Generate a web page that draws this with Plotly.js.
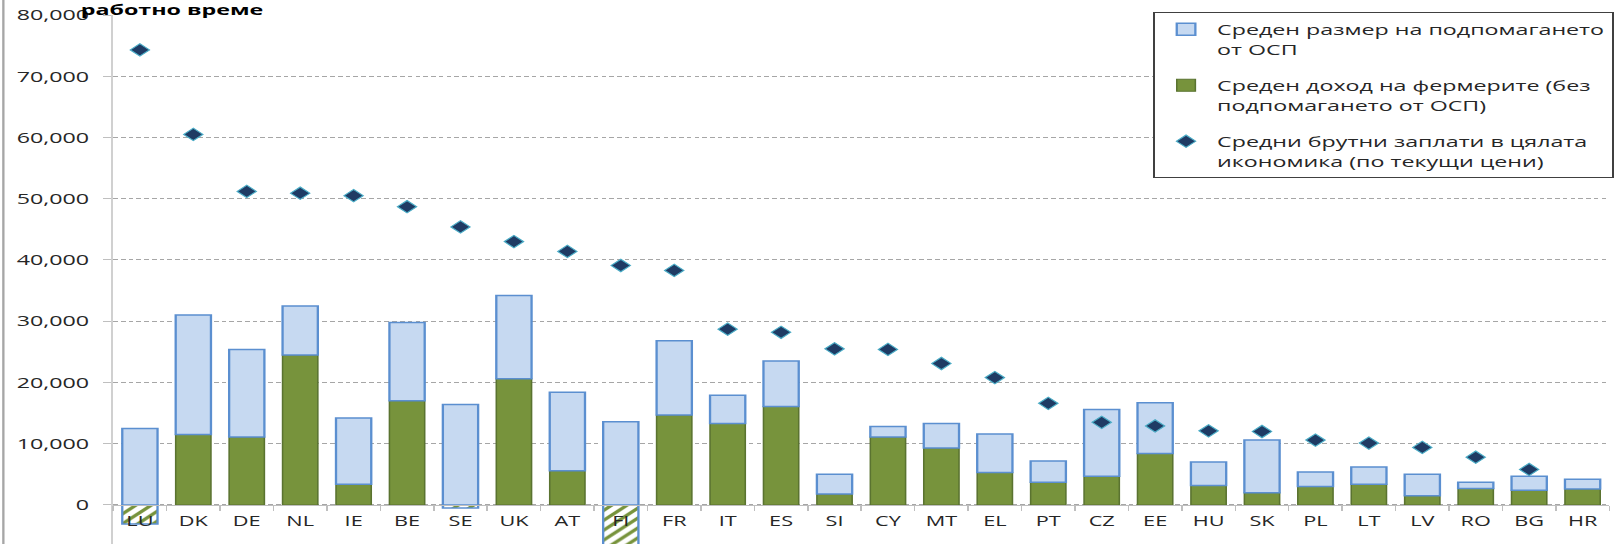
<!DOCTYPE html>
<html>
<head>
<meta charset="utf-8">
<script src="https://cdn.plot.ly/plotly-3.0.1.min.js"></script>
<style>
  html, body { margin: 0; padding: 0; background: #ffffff; overflow: hidden; }
  #wrap { width: 1614px; height: 544px; overflow: hidden; position: relative; }
  #chart { width: 1041px; height: 544px; transform: scaleX(1.5504); transform-origin: 0 0; }
</style>
</head>
<body>
<div id="wrap"><div id="chart"></div></div>
<script>
// Member states (category axis)
const countries = ["LU","DK","DE","NL","IE","BE","SE","UK","AT","FI","FR","IT","ES","SI","CY","MT","EL","PT","CZ","EE","HU","SK","PL","LT","LV","RO","BG","HR"];

// Average farmers' income without CAP support (EUR per annual work unit)
const farmIncome = [-3100, 11500, 11100, 24500, 3400, 17000, -500, 20600, 5600, -8500, 14700, 13300, 16100, 1800, 11100, 9300, 5300, 3700, 4700, 8400, 3200, 2000, 3000, 3400, 1500, 2700, 2400, 2600];

// Average CAP support
const capSupport = [12500, 19500, 14300, 8000, 10800, 12800, 16400, 13600, 12800, 13600, 12100, 4600, 7400, 3200, 1700, 4000, 6300, 3500, 10900, 8300, 3800, 8600, 2400, 2800, 3500, 1000, 2300, 1600];

// Average gross wages in the whole economy (current prices)
const grossWages = [74300, 60500, 51200, 50900, 50500, 48700, 45400, 43000, 41400, 39100, 38300, 28700, 28200, 25500, 25400, 23100, 20800, 16600, 13500, 12900, 12100, 12000, 10600, 10100, 9400, 7800, 5800, null];

const yTicks = [0, 10000, 20000, 30000, 40000, 50000, 60000, 70000, 80000];

const names = {
  cap: "Среден размер на подпомагането<br>от ОСП",
  income: "Среден доход на фермерите (без<br>подпомагането от ОСП)",
  wages: "Средни брутни заплати в цялата<br>икономика (по текущи цени)"
};

const incomePos = farmIncome.map(v => v >= 0 ? v : null);
const incomeNeg = farmIncome.map(v => v < 0 ? v : null);

const font = "Open Sans, Noto Sans, DejaVu Sans, sans-serif";

const traces = [
  {
    type: "bar", x: countries, y: incomePos, name: names.income,
    legendrank: 2, legendgroup: "b",
    marker: { color: "#77933c", line: { color: "#5a7330", width: 1 } },
    hoverinfo: "skip"
  },
  {
    type: "bar", x: countries, y: incomeNeg, name: names.income,
    showlegend: false, legendgroup: "b",
    marker: {
      color: "#ffffff",
      line: { color: "#5b8fd0", width: 1.5 },
      pattern: { shape: "/", fgcolor: "#77933c", bgcolor: "#ffffff", size: 7, solidity: 0.4, fillmode: "replace" }
    },
    hoverinfo: "skip"
  },
  {
    type: "bar", x: countries, y: capSupport, name: names.cap,
    legendrank: 1, legendgroup: "a",
    marker: { color: "#c6d9f1", line: { color: "#5b8fd0", width: 1.5 } },
    hoverinfo: "skip"
  },
  {
    type: "scatter", mode: "markers", x: countries, y: grossWages, name: names.wages,
    legendrank: 3, legendgroup: "c",
    marker: { symbol: "diamond", size: 9.5, color: "#1f3b64", line: { color: "#4bacc6", width: 1 } },
    hoverinfo: "skip"
  }
];

const yMin = -6370, yMax = 80000;
const zeroPos = (0 - yMin) / (yMax - yMin);

const layout = {
  width: 1041, height: 544,
  margin: { l: 73, r: 0, t: 15, b: 0, pad: 0 },
  paper_bgcolor: "#ffffff", plot_bgcolor: "#ffffff",
  font: { family: font, size: 15, color: "#262626" },
  barmode: "relative",
  bargap: 0.34,
  showlegend: true,
  legend: {
    x: 0.6955, y: 1.0057, xanchor: "left", yanchor: "top",
    bgcolor: "#ffffff", bordercolor: "#404040", borderwidth: 1,
    font: { family: font, size: 15, color: "#262626" },
    valign: "top", tracegroupgap: 14, traceorder: "grouped",
    itemwidth: 30
  },
  xaxis: {
    type: "category",
    anchor: "free", position: zeroPos,
    showline: true, linecolor: "#bfbfbf", linewidth: 1.5,
    ticks: "outside", tickson: "boundaries", ticklen: 5, tickcolor: "#bfbfbf", tickwidth: 1,
    tickfont: { family: font, size: 14, color: "#262626" },
    ticklabelstandoff: 3,
    showgrid: false, zeroline: false,
    range: [-0.5, countries.length - 0.5],
    fixedrange: true
  },
  yaxis: {
    range: [yMin, yMax],
    tickvals: yTicks,
    tickformat: ",d",
    showgrid: true, gridcolor: "#a6a6a6", gridwidth: 1, griddash: "3px,2px",
    zeroline: false,
    showline: true, linecolor: "#d0d0d0", linewidth: 1.5,
    ticks: "outside", ticklen: 5, tickcolor: "#bfbfbf",
    ticklabelstandoff: 6,
    tickfont: { family: font, size: 15, color: "#262626" },
    fixedrange: true
  },
  annotations: [
    {
      xref: "paper", yref: "paper", x: -0.0235, y: 1.0113,
      xanchor: "left", yanchor: "middle", showarrow: false,
      text: "<b>работно време</b>",
      font: { family: font, size: 15, color: "#000000" }
    }
  ],
  shapes: [
    {
      type: "line", xref: "paper", yref: "paper",
      x0: -0.0734, x1: -0.0734, y0: -0.01, y1: 1.03,
      line: { color: "#a6a6a6", width: 1.5 }
    }
  ]
};

Plotly.newPlot("chart", traces, layout, { displayModeBar: false, staticPlot: true });
</script>
</body>
</html>
